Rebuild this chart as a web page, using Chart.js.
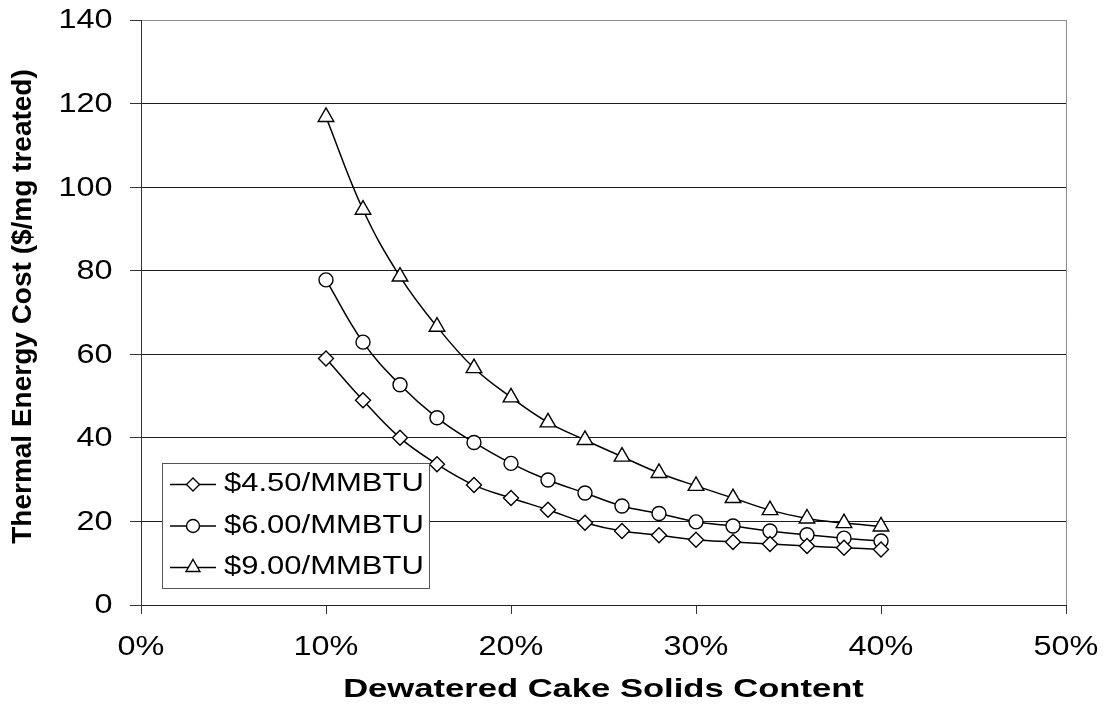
<!DOCTYPE html>
<html>
<head>
<meta charset="utf-8">
<script src="https://cdn.jsdelivr.net/npm/chart.js@4/dist/chart.umd.min.js"></script>
<style>
  html, body { margin: 0; padding: 0; background: #fff; }
  #wrap { width: 1110px; height: 704px; position: relative; }
</style>
</head>
<body>
<div id="wrap"><canvas id="chart" width="1110" height="704"></canvas></div>
<script>
// Dewatered cake solids content (%)
const solids = [10, 12, 14, 16, 18, 20, 22, 24, 26, 28, 30, 32, 34, 36, 38, 40];

// Thermal energy cost ($/mg treated) at three fuel prices
const cost450 = [59, 49, 40, 33.7, 28.7, 25.6, 22.8, 19.7, 17.7, 16.7, 15.6, 15.1, 14.6, 14.1, 13.7, 13.3];
const cost600 = [77.8, 62.9, 52.7, 44.8, 38.9, 33.9, 29.9, 26.8, 23.7, 21.9, 19.9, 18.9, 17.7, 16.8, 16.0, 15.3];
const cost900 = [116.8, 94.6, 78.6, 66.6, 56.7, 49.7, 43.7, 39.5, 35.5, 31.6, 28.5, 25.6, 22.7, 20.7, 19.6, 18.8];

const seriesNames = ['$4.50/MMBTU', '$6.00/MMBTU', '$9.00/MMBTU'];
const seriesMarkers = ['rectRot', 'circle', 'triangle'];

const xTicks = [0, 10, 20, 30, 40, 50];
const yTicks = [0, 20, 40, 60, 80, 100, 120, 140];

const xTitle = 'Dewatered Cake Solids Content';
const yTitle = 'Thermal Energy Cost ($/mg treated)';

const FONT = '"Liberation Sans", Arial, Helvetica, sans-serif';

function toPoints(values) {
  return solids.map((s, i) => ({ x: s, y: values[i] }));
}

const markerRadius = { rectRot: 7.5, circle: 7, triangle: 9 };

function makeDataset(values, idx) {
  const style = seriesMarkers[idx];
  return {
    label: seriesNames[idx],
    data: toPoints(values),
    borderColor: '#000',
    borderWidth: 1.5,
    tension: 0.4,
    fill: false,
    pointStyle: style,
    pointRadius: markerRadius[style],
    pointBackgroundColor: '#fff',
    pointBorderColor: '#000',
    pointBorderWidth: 1.4
  };
}

// Horizontally widened text, drawn on the chart canvas
function wideText(ctx, text, x, y, opts) {
  ctx.save();
  ctx.translate(x, y);
  if (opts.rotate) ctx.rotate(opts.rotate);
  ctx.scale(opts.sx || 1, 1);
  ctx.font = opts.font;
  ctx.fillStyle = '#000';
  ctx.textAlign = opts.align || 'center';
  ctx.textBaseline = 'middle';
  ctx.fillText(text, 0, 0);
  ctx.restore();
}

const framePlugin = {
  id: 'frame',
  beforeDatasetsDraw(chart) {
    const { ctx, chartArea: a } = chart;
    ctx.save();
    ctx.strokeStyle = '#8c8c8c';
    ctx.lineWidth = 1;
    ctx.beginPath();
    ctx.moveTo(Math.round(a.right) + 0.5, a.top);
    ctx.lineTo(Math.round(a.right) + 0.5, a.bottom);
    ctx.stroke();
    ctx.restore();
  }
};

const labelPlugin = {
  id: 'labels',
  afterDraw(chart) {
    const { ctx, chartArea: a, scales: { x, y } } = chart;

    // y tick labels
    yTicks.forEach(v => {
      wideText(ctx, String(v), a.left - 28.5, y.getPixelForValue(v) + 1,
        { font: `27px ${FONT}`, sx: 1.2, align: 'right' });
    });
    // x tick labels
    xTicks.forEach(v => {
      wideText(ctx, v + '%', x.getPixelForValue(v), a.bottom + 43,
        { font: `27px ${FONT}`, sx: 1.2, align: 'center' });
    });
    // axis titles
    wideText(ctx, xTitle, (a.left + a.right) / 2, a.bottom + 85,
      { font: `bold 26px ${FONT}`, sx: 1.33, align: 'center' });
    wideText(ctx, yTitle, 23, (a.top + a.bottom) / 2 - 6,
      { font: `bold 28px ${FONT}`, sx: 1.0, align: 'center', rotate: -Math.PI / 2 });
  },
  afterDatasetsDraw(chart) {
    // legend box in the lower-left corner of the plot area
    const { ctx, chartArea: a } = chart;
    const left = a.left + 21, top = a.bottom - 142, w = 267, h = 125;
    ctx.save();
    ctx.fillStyle = '#fff';
    ctx.fillRect(left, top, w, h);
    ctx.strokeStyle = '#555';
    ctx.lineWidth = 1;
    ctx.strokeRect(left + 0.5, top + 0.5, w, h);
    ctx.restore();

    const rowY = [top + 21.5, top + 63, top + 104.5];
    chart.data.datasets.forEach((ds, i) => {
      const cy = rowY[i];
      ctx.save();
      ctx.strokeStyle = '#000';
      ctx.lineWidth = 1.5;
      ctx.beginPath();
      ctx.moveTo(left + 8, cy);
      ctx.lineTo(left + 54, cy);
      ctx.stroke();
      ctx.fillStyle = '#fff';
      ctx.lineWidth = 1.4;
      const r = ds.pointStyle === 'triangle' ? 8 : 6.5;
      Chart.helpers.drawPoint(ctx, { pointStyle: ds.pointStyle, radius: r, borderWidth: 1.4, rotation: 0 }, left + 31, cy);
      ctx.restore();
      wideText(ctx, ds.label, left + 62, cy, { font: `25px ${FONT}`, sx: 1.24, align: 'left' });
    });
  }
};

new Chart(document.getElementById('chart'), {
  type: 'line',
  data: {
    datasets: [makeDataset(cost450, 0), makeDataset(cost600, 1), makeDataset(cost900, 2)]
  },
  options: {
    responsive: false,
    animation: false,
    layout: { padding: { left: 0, right: 44, top: 20, bottom: 0 } },
    plugins: {
      legend: { display: false },
      tooltip: { enabled: false }
    },
    scales: {
      x: {
        type: 'linear',
        min: 0,
        max: 50,
        afterBuildTicks: s => { s.ticks = xTicks.map(v => ({ value: v })); },
        ticks: { display: false },
        grid: {
          drawOnChartArea: false,
          drawTicks: true,
          tickLength: 9,
          tickColor: '#333',
          color: '#333'
        },
        border: { color: '#222', width: 1 },
        afterFit: s => { s.height = 99; }
      },
      y: {
        type: 'linear',
        min: 0,
        max: 140,
        afterBuildTicks: s => { s.ticks = yTicks.map(v => ({ value: v })); },
        ticks: { display: false },
        grid: {
          color: c => (c.tick && c.tick.value === 140 ? '#8c8c8c' : '#1e1e1e'),
          lineWidth: 1,
          drawTicks: true,
          tickLength: 11,
          tickColor: '#333'
        },
        border: { color: '#333', width: 1 },
        afterFit: s => { s.width = 141; }
      }
    }
  },
  plugins: [framePlugin, labelPlugin]
});
</script>
</body>
</html>
